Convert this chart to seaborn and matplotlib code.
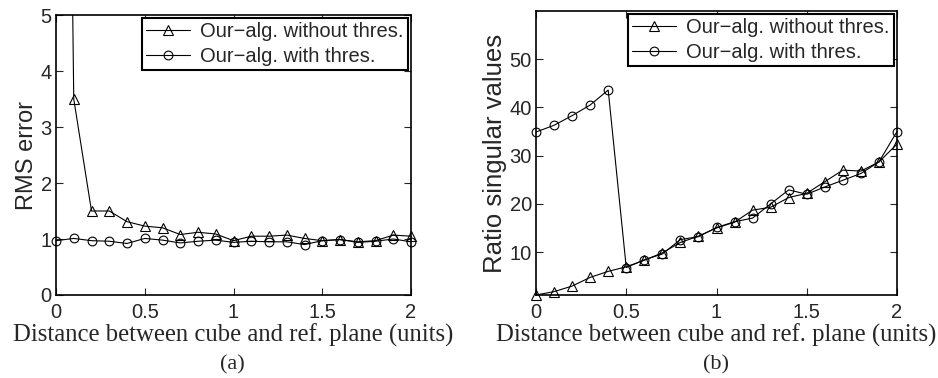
import numpy as np
import pandas as pd
import matplotlib
matplotlib.use("Agg")
import matplotlib.pyplot as plt
from matplotlib.patches import Rectangle
import seaborn as sns

# ---------- Data ----------
dist = [0.0, 0.1, 0.2, 0.3, 0.4, 0.5, 0.6, 0.7, 0.8, 0.9, 1.0,
        1.1, 1.2, 1.3, 1.4, 1.5, 1.6, 1.7, 1.8, 1.9, 2.0]

# (a) RMS error
rms_no_thres = [30.0, 3.5, 1.5, 1.5, 1.31, 1.23, 1.2, 1.08, 1.12, 1.09, 0.97,
                1.05, 1.05, 1.07, 1.01, 0.97, 0.99, 0.95, 0.97, 1.07, 1.05]
rms_thres = [0.97, 1.01, 0.97, 0.96, 0.92, 1.01, 0.98, 0.93, 0.96, 0.98, 0.94,
             0.96, 0.95, 0.95, 0.9, 0.97, 0.99, 0.94, 0.96, 1.0, 0.95]

# (b) ratio of singular values
ratio_no_thres = [1.1, 1.8, 2.95, 4.75, 6.0, 6.95, 8.3, 9.85, 12.0, 13.3, 15.0,
                  16.2, 18.7, 19.3, 21.3, 22.2, 24.6, 27.0, 26.8, 28.7, 32.4]
ratio_thres = [34.9, 36.3, 38.3, 40.5, 43.6, 6.8, 8.4, 9.6, 12.6, 13.2, 15.1,
               16.3, 17.05, 20.0, 22.9, 22.0, 23.5, 24.9, 26.3, 28.7, 35.0]

labels = ["Our\u2212alg. without thres.", "Our\u2212alg. with thres."]

sns.set_style("ticks")
plt.rcParams["font.family"] = ["Liberation Sans", "DejaVu Sans"]
plt.rcParams["xtick.direction"] = "in"
plt.rcParams["ytick.direction"] = "in"
plt.rcParams["xtick.top"] = True
plt.rcParams["ytick.right"] = True

fig = plt.figure(figsize=(9.38, 3.78), dpi=100)
ax1 = fig.add_axes([56 / 938, 1 - 295 / 378, 355 / 938, 280 / 378])
ax2 = fig.add_axes([536 / 938, 1 - 295 / 378, 361 / 938, 284 / 378])


def draw(ax, y1, y2):
    sns.lineplot(x=dist, y=y1, ax=ax, color="black", lw=0.8, marker="^",
                 markersize=6.8, mfc="none", mec="black", mew=0.8, label=labels[0])
    sns.lineplot(x=dist, y=y2, ax=ax, color="black", lw=0.8, marker="o",
                 markersize=6.3, mfc="none", mec="black", mew=0.8, label=labels[1])
    # markers may spill over the side spines, but not above the top
    for ln in ax.lines:
        ln.set_clip_path(Rectangle((-0.04, -0.04), 1.08, 1.04,
                                   transform=ax.transAxes))
    ax.set_xlim(0, 2)
    ax.set_xticks([0, 0.5, 1, 1.5, 2])
    ax.set_xticklabels(["0", "0.5", "1", "1.5", "2"])
    ax.tick_params(labelsize=14.5, length=5, width=0.8)
    ax.tick_params(axis="x", pad=6)
    ax.tick_params(axis="y", pad=3)
    for s in ax.spines.values():
        s.set_linewidth(1.2)
        s.set_color("black")
    ax.set_xlabel("Distance between cube and ref. plane (units)",
                  family="Liberation Serif", fontsize=17.8, labelpad=1)
    leg = ax.legend(loc="upper right", fontsize=14.5, fancybox=False,
                    edgecolor="black", framealpha=1, borderaxespad=0.15,
                    handlelength=2.2, borderpad=0.2, labelspacing=0.3,
                    handletextpad=0.5)
    leg.get_frame().set_linewidth(1.5)


draw(ax1, rms_no_thres, rms_thres)
ax1.set_ylim(0, 5)
ax1.set_yticks([0, 1, 2, 3, 4, 5])
ax1.set_ylabel("RMS error", fontsize=17, labelpad=2)

draw(ax2, ratio_no_thres, ratio_thres)
ax2.set_ylim(1.1, 60)
ax2.set_yticks([10, 20, 30, 40, 50])
ax2.set_ylabel("Ratio singular values", fontsize=18.5, labelpad=2)

fig.text(232 / 938, 1 - 365 / 378, "(a)", family="Liberation Serif",
         fontsize=16, ha="center", va="center")
fig.text(716 / 938, 1 - 365 / 378, "(b)", family="Liberation Serif",
         fontsize=16, ha="center", va="center")

fig.savefig("out.png", dpi=100)
